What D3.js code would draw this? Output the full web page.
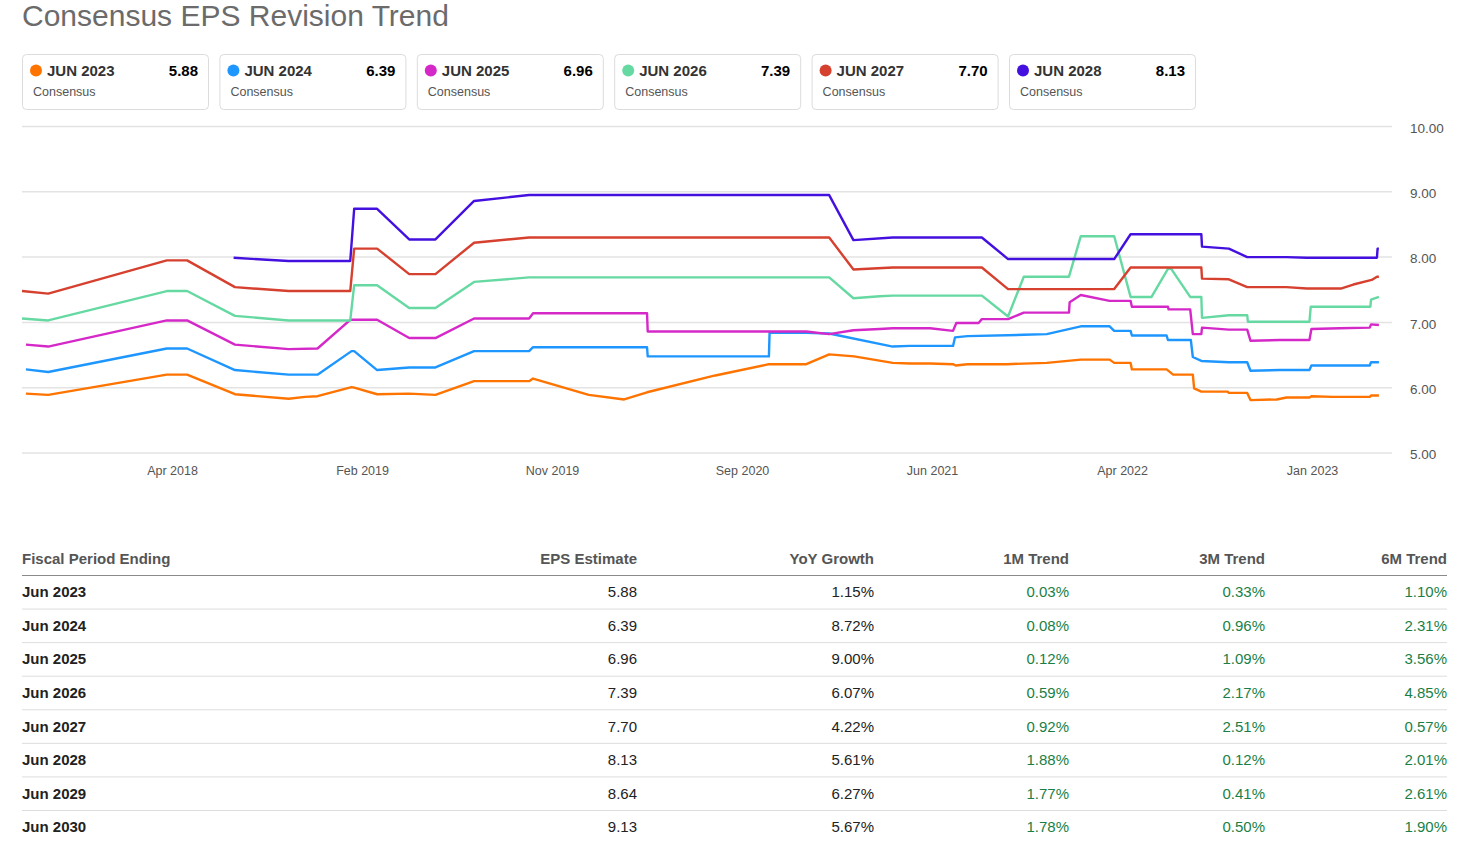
<!DOCTYPE html>
<html>
<head>
<meta charset="utf-8">
<script src="https://cdn.jsdelivr.net/npm/d3@7"></script>
<style>
  html, body { margin: 0; padding: 0; background: #fff; }
  svg { display: block; font-family: "Liberation Sans", Arial, sans-serif; }
</style>
</head>
<body>
<svg id="chart" width="1462" height="841"></svg>
<script>
// ---------- DATA ----------
const seriesNames = ["JUN 2023", "JUN 2024", "JUN 2025", "JUN 2026", "JUN 2027", "JUN 2028"];
const seriesLatest = ["5.88", "6.39", "6.96", "7.39", "7.70", "8.13"];
const seriesColors = ["#ff7400", "#1e96ff", "#d528c8", "#66d9a2", "#d6402f", "#4410e0"];

const jun2023 = [
  ["2017-09-14",5.91],["2017-10-18",5.89],["2018-04-17",6.20],["2018-05-18",6.20],["2018-07-30",5.90],
  ["2018-10-20",5.83],["2018-11-14",5.86],["2018-12-03",5.87],["2019-01-24",6.01],["2019-01-28",6.00],
  ["2019-03-04",5.90],["2019-04-22",5.91],["2019-06-01",5.89],["2019-07-30",6.10],["2019-10-22",6.10],
  ["2019-10-28",6.14],["2020-01-21",5.89],["2020-03-15",5.82],["2020-04-19",5.93],["2020-07-29",6.18],
  ["2020-08-03",6.19],["2020-10-22",6.36],["2020-12-18",6.36],["2021-01-22",6.51],["2021-03-01",6.48],
  ["2021-04-29",6.38],["2021-05-25",6.37],["2021-06-25",6.37],["2021-07-30",6.36],["2021-08-03",6.34],
  ["2021-08-21",6.36],["2021-10-20",6.36],["2021-12-20",6.38],["2022-02-10",6.43],["2022-03-26",6.43],
  ["2022-04-02",6.38],["2022-04-27",6.38],["2022-04-29",6.28],["2022-06-21",6.28],["2022-07-01",6.20],
  ["2022-07-31",6.20],["2022-08-02",5.99],["2022-08-13",5.94],["2022-09-22",5.94],["2022-09-24",5.92],
  ["2022-10-22",5.92],["2022-10-27",5.81],["2022-12-06",5.82],["2022-12-21",5.85],["2023-01-25",5.85],
  ["2023-01-28",5.87],["2023-03-02",5.86],["2023-04-27",5.86],["2023-04-29",5.88],["2023-05-11",5.88]
];
const jun2024 = [
  ["2017-09-14",6.28],["2017-10-18",6.24],["2018-04-17",6.60],["2018-05-18",6.60],["2018-07-30",6.27],
  ["2018-10-20",6.20],["2018-12-03",6.20],["2019-01-24",6.56],["2019-01-28",6.56],["2019-03-04",6.27],
  ["2019-04-22",6.31],["2019-06-01",6.31],["2019-07-30",6.56],["2019-10-22",6.56],["2019-10-28",6.62],
  ["2020-04-19",6.62],["2020-04-20",6.48],["2020-10-22",6.48],["2020-10-23",6.84],["2020-12-18",6.84],
  ["2021-01-22",6.83],["2021-04-29",6.63],["2021-05-25",6.64],["2021-07-30",6.64],["2021-08-02",6.77],
  ["2021-08-21",6.79],["2021-11-15",6.81],["2021-12-20",6.82],["2022-02-10",6.94],["2022-03-26",6.94],
  ["2022-04-02",6.87],["2022-04-27",6.87],["2022-04-29",6.80],["2022-06-21",6.80],["2022-06-23",6.73],
  ["2022-07-28",6.73],["2022-07-31",6.47],["2022-08-13",6.41],["2022-09-24",6.39],["2022-10-22",6.39],
  ["2022-10-27",6.26],["2022-12-11",6.27],["2023-01-25",6.27],["2023-01-28",6.34],["2023-03-12",6.34],
  ["2023-04-27",6.34],["2023-04-29",6.39],["2023-05-11",6.39]
];
const jun2025 = [
  ["2017-09-14",6.66],["2017-10-18",6.63],["2018-04-17",7.03],["2018-05-18",7.03],["2018-07-30",6.66],
  ["2018-10-20",6.59],["2018-12-03",6.60],["2019-01-22",7.04],["2019-03-04",7.04],["2019-04-22",6.76],
  ["2019-06-01",6.76],["2019-07-30",7.06],["2019-10-22",7.06],["2019-10-28",7.14],["2020-04-19",7.14],
  ["2020-04-20",6.86],["2020-12-18",6.86],["2021-01-22",6.82],["2021-02-28",6.88],["2021-04-09",6.90],
  ["2021-04-29",6.91],["2021-06-25",6.91],["2021-07-30",6.87],["2021-08-04",6.99],["2021-09-07",6.99],
  ["2021-09-12",7.05],["2021-10-22",7.05],["2021-11-15",7.15],["2022-01-23",7.15],["2022-01-24",7.31],
  ["2022-02-10",7.42],["2022-03-26",7.33],["2022-04-27",7.33],["2022-04-29",7.24],["2022-06-23",7.24],
  ["2022-06-24",7.20],["2022-07-27",7.20],["2022-07-31",6.82],["2022-08-13",6.82],["2022-08-14",6.92],
  ["2022-09-24",6.89],["2022-10-22",6.89],["2022-10-27",6.72],["2022-12-11",6.73],["2023-01-25",6.73],
  ["2023-01-28",6.90],["2023-03-12",6.91],["2023-04-27",6.92],["2023-04-29",6.97],["2023-05-11",6.96]
];
const jun2026 = [
  ["2017-09-08",7.06],["2017-10-18",7.03],["2018-04-17",7.48],["2018-05-18",7.48],["2018-07-30",7.10],
  ["2018-10-20",7.03],["2019-01-22",7.03],["2019-01-28",7.57],["2019-03-04",7.57],["2019-04-22",7.22],
  ["2019-06-01",7.22],["2019-07-30",7.62],["2019-10-22",7.69],["2021-01-22",7.69],["2021-02-28",7.37],
  ["2021-04-09",7.40],["2021-04-29",7.41],["2021-09-12",7.41],["2021-10-22",7.09],["2021-11-15",7.70],
  ["2022-01-23",7.70],["2022-02-10",8.32],["2022-04-02",8.32],["2022-04-27",7.39],["2022-05-29",7.39],
  ["2022-06-23",7.82],["2022-06-28",7.82],["2022-07-27",7.39],["2022-08-13",7.39],["2022-08-14",7.07],
  ["2022-09-24",7.11],["2022-10-22",7.11],["2022-10-23",7.01],["2023-01-25",7.01],["2023-01-27",7.24],
  ["2023-04-28",7.24],["2023-04-29",7.35],["2023-05-11",7.39]
];
const jun2027 = [
  ["2017-09-08",7.48],["2017-10-18",7.44],["2018-04-17",7.95],["2018-05-18",7.95],["2018-07-30",7.54],
  ["2018-10-20",7.48],["2019-01-22",7.48],["2019-01-28",8.13],["2019-03-04",8.13],["2019-04-22",7.74],
  ["2019-06-01",7.74],["2019-07-30",8.22],["2019-10-22",8.30],["2021-01-22",8.30],["2021-02-28",7.81],
  ["2021-04-29",7.84],["2021-09-12",7.84],["2021-10-22",7.51],["2022-04-02",7.51],["2022-04-27",7.84],
  ["2022-08-13",7.84],["2022-08-14",7.67],["2022-09-24",7.66],["2022-10-22",7.54],["2022-12-21",7.54],
  ["2023-01-21",7.52],["2023-03-15",7.52],["2023-04-02",7.58],["2023-04-30",7.65],["2023-05-08",7.70],
  ["2023-05-11",7.70]
];
const jun2028 = [
  ["2018-07-28",7.99],["2018-10-20",7.94],["2019-01-22",7.94],["2019-01-28",8.74],["2019-03-04",8.74],
  ["2019-04-22",8.27],["2019-06-01",8.27],["2019-07-30",8.86],["2019-10-22",8.95],["2021-01-22",8.95],
  ["2021-02-28",8.26],["2021-04-29",8.30],["2021-09-12",8.30],["2021-10-22",7.97],["2022-04-02",7.97],
  ["2022-04-27",8.35],["2022-08-13",8.35],["2022-08-14",8.16],["2022-09-24",8.13],["2022-10-22",8.00],
  ["2022-12-21",8.00],["2023-01-21",7.99],["2023-05-08",7.99],["2023-05-09",8.13],["2023-05-11",8.13]
];
const seriesValues = [jun2023, jun2024, jun2025, jun2026, jun2027, jun2028];

const yTicks = [5, 6, 7, 8, 9, 10];
const xTickDates = ["2018-04-25","2019-02-09","2019-11-26","2020-09-11","2021-06-28","2022-04-14","2023-01-29"];
const xDomain = ["2017-09-08", "2023-05-31"];

// table
const tableHeaders = ["Fiscal Period Ending", "EPS Estimate", "YoY Growth", "1M Trend", "3M Trend", "6M Trend"];
const periods = ["Jun 2023","Jun 2024","Jun 2025","Jun 2026","Jun 2027","Jun 2028","Jun 2029","Jun 2030"];
const epsEstimate = ["5.88","6.39","6.96","7.39","7.70","8.13","8.64","9.13"];
const yoyGrowth = ["1.15%","8.72%","9.00%","6.07%","4.22%","5.61%","6.27%","5.67%"];
const trend1M = ["0.03%","0.08%","0.12%","0.59%","0.92%","1.88%","1.77%","1.78%"];
const trend3M = ["0.33%","0.96%","1.09%","2.17%","2.51%","0.12%","0.41%","0.50%"];
const trend6M = ["1.10%","2.31%","3.56%","4.85%","0.57%","2.01%","2.61%","1.90%"];

// ---------- DRAW ----------
const svg = d3.select("#chart");
const parse = d3.utcParse("%Y-%m-%d");

// Title
svg.append("text").attr("x", 22).attr("y", 25.5)
  .attr("font-size", 30).attr("fill", "#6b6b6b").text("Consensus EPS Revision Trend");

// Legend boxes
const lg = svg.append("g");
seriesNames.forEach((name, i) => {
  const g = lg.append("g").attr("transform", `translate(${22.5 + i * 197.4},54.5)`);
  g.append("rect").attr("width", 186).attr("height", 55).attr("rx", 4)
    .attr("fill", "#fff").attr("stroke", "#dcdcdc");
  g.append("circle").attr("cx", 13.5).attr("cy", 16).attr("r", 6).attr("fill", seriesColors[i]);
  g.append("text").attr("x", 24.5).attr("y", 21.5).attr("font-size", 15).attr("font-weight", "bold")
    .attr("fill", "#333").text(name);
  g.append("text").attr("x", 175.5).attr("y", 21.5).attr("font-size", 15).attr("font-weight", "bold")
    .attr("text-anchor", "end").attr("fill", "#000").text(seriesLatest[i]);
  g.append("text").attr("x", 10.5).attr("y", 41.5).attr("font-size", 12.5)
    .attr("fill", "#555").text("Consensus");
});

// Scales
const x = d3.scaleUtc().domain(xDomain.map(parse)).range([22, 1392]);
const y = d3.scaleLinear().domain([5, 10]).range([453, 126.5]);

// gridlines
svg.append("g").selectAll("line").data(yTicks).join("line")
  .attr("x1", 22).attr("x2", 1392)
  .attr("y1", d => y(d)).attr("y2", d => y(d))
  .attr("stroke", "#e3e3e3").attr("stroke-width", 1.5);

// y axis
const yAxis = svg.append("g").attr("transform", "translate(1392,1.5)")
  .call(d3.axisRight(y).tickValues(yTicks).tickFormat(d3.format(".2f")).tickSize(0).tickPadding(18));
yAxis.select(".domain").remove();
yAxis.selectAll("text").attr("font-size", 13.5).attr("fill", "#555")
  .attr("font-family", "Liberation Sans, Arial, sans-serif");

// x axis
const xAxis = svg.append("g").attr("transform", "translate(0,454)")
  .call(d3.axisBottom(x).tickValues(xTickDates.map(parse)).tickFormat(d3.utcFormat("%b %Y")).tickSize(0).tickPadding(12));
xAxis.select(".domain").remove();
xAxis.selectAll("text").attr("font-size", 12.5).attr("fill", "#555")
  .attr("font-family", "Liberation Sans, Arial, sans-serif");

// lines
const line = d3.line().x(d => x(parse(d[0]))).y(d => y(d[1]));
svg.append("g").selectAll("path").data(seriesValues).join("path")
  .attr("d", line).attr("fill", "none")
  .attr("stroke", (d, i) => seriesColors[i]).attr("stroke-width", 2.4)
  .attr("stroke-linejoin", "round");

// Table
const colRight = [null, 637, 874, 1069, 1265, 1447];
const tg = svg.append("g").attr("font-size", 15);
tableHeaders.forEach((h, c) => {
  tg.append("text").attr("x", c === 0 ? 22 : colRight[c]).attr("y", 564)
    .attr("text-anchor", c === 0 ? "start" : "end")
    .attr("font-weight", "bold").attr("fill", "#555").text(h);
});
tg.append("line").attr("x1", 22).attr("x2", 1447).attr("y1", 575.5).attr("y2", 575.5)
  .attr("stroke", "#8a8a8a").attr("stroke-width", 1);
const rowH = 33.57;
periods.forEach((p, r) => {
  const by = 597.3 + r * rowH;
  if (r > 0) {
    tg.append("line").attr("x1", 22).attr("x2", 1447)
      .attr("y1", 575.5 + r * rowH).attr("y2", 575.5 + r * rowH)
      .attr("stroke", "#dddddd").attr("stroke-width", 1);
  }
  tg.append("text").attr("x", 22).attr("y", by).attr("font-weight", "bold").attr("fill", "#222").text(p);
  const vals = [epsEstimate[r], yoyGrowth[r], trend1M[r], trend3M[r], trend6M[r]];
  vals.forEach((v, k) => {
    tg.append("text").attr("x", colRight[k + 1]).attr("y", by).attr("text-anchor", "end")
      .attr("fill", k < 2 ? "#222" : "#1a7f47").text(v);
  });
});
</script>
</body>
</html>
